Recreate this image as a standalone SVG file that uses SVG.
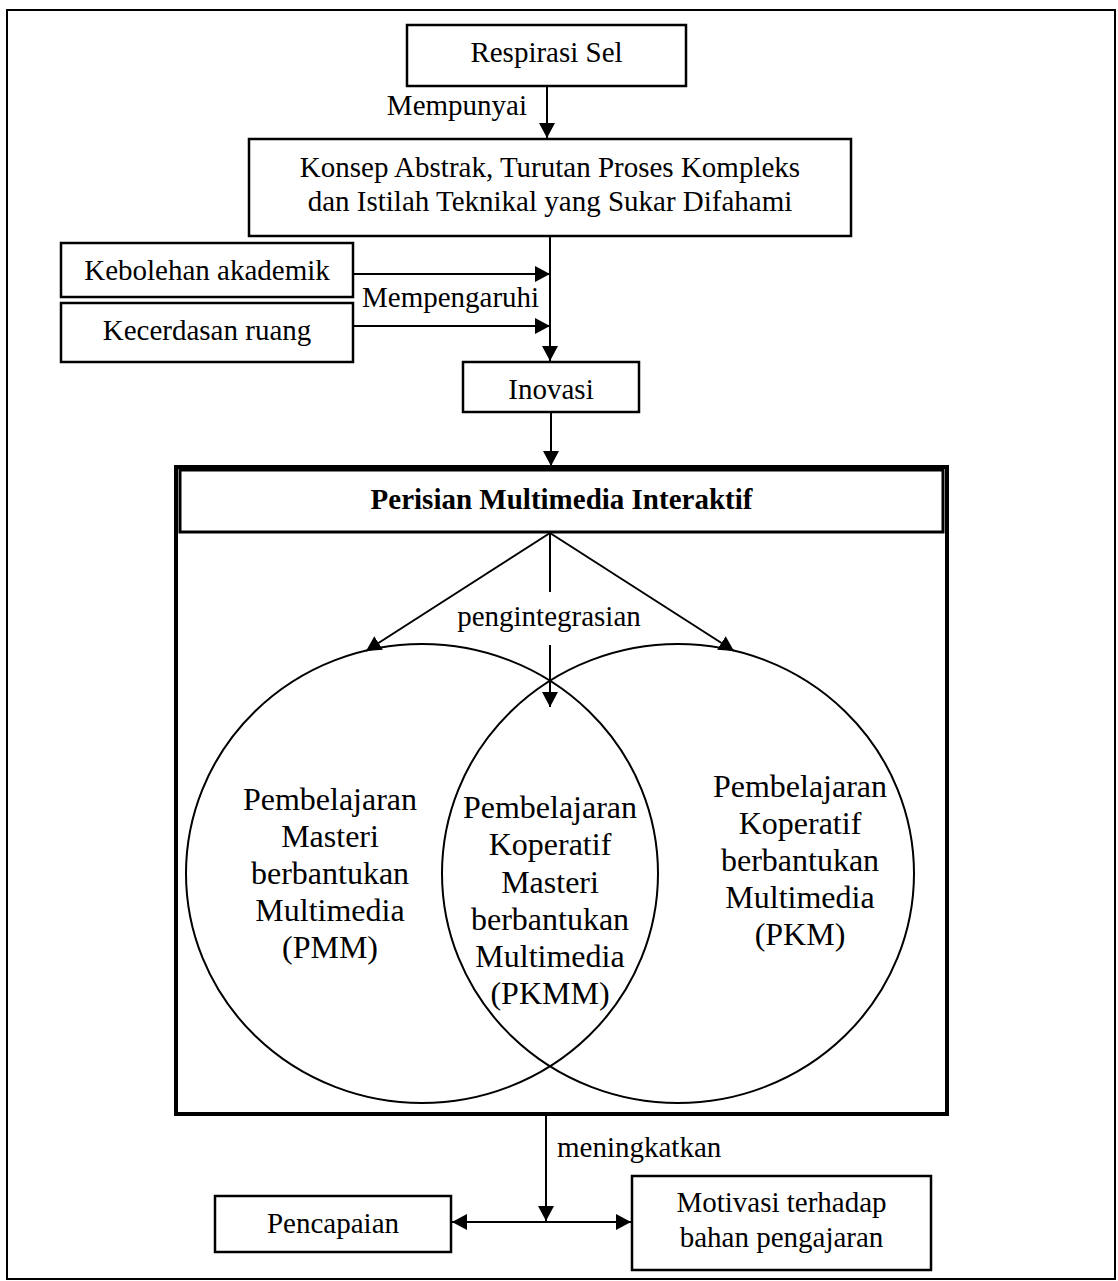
<svg xmlns="http://www.w3.org/2000/svg" width="1118" height="1281" viewBox="0 0 1118 1281">
<defs>
<style>
.box{fill:#fff;stroke:#000;stroke-width:2.5}
.ln{fill:none;stroke:#000;stroke-width:2}
.t{font-family:"Liberation Serif","Times New Roman",serif;font-size:29px;fill:#000}
.c{text-anchor:middle}
.b{font-weight:bold}
.big{font-size:32px}
</style>
<marker id="ah" markerUnits="userSpaceOnUse" markerWidth="16" markerHeight="16" refX="15" refY="8" orient="auto">
<path d="M0,0 L15,8 L0,16 z" fill="#000"/>
</marker>
</defs>
<rect x="0" y="0" width="1118" height="1281" fill="#fff"/>
<rect id="frame" x="7" y="10" width="1108" height="1269" fill="none" stroke="#000" stroke-width="2"/>

<g id="respirasi">
<rect class="box" x="407" y="25" width="279" height="61"/>
<text class="t c" x="546.5" y="62">Respirasi Sel</text>
</g>
<g id="konsep">
<rect class="box" x="249" y="139" width="602" height="97"/>
<text class="t c" x="550" y="177">Konsep Abstrak, Turutan Proses Kompleks</text>
<text class="t c" x="550" y="211">dan Istilah Teknikal yang Sukar Difahami</text>
</g>
<g id="kebolehan">
<rect class="box" x="61" y="243" width="292" height="54"/>
<text class="t c" x="207" y="280">Kebolehan akademik</text>
</g>
<g id="kecerdasan">
<rect class="box" x="61" y="303" width="292" height="59"/>
<text class="t c" x="207" y="340">Kecerdasan ruang</text>
</g>
<g id="inovasi">
<rect class="box" x="463" y="362" width="176" height="50"/>
<text class="t c" x="551" y="399">Inovasi</text>
</g>
<g id="perisian">
<rect x="176" y="467" width="771" height="647" fill="#fff" stroke="#000" stroke-width="4"/>
<rect x="180" y="470" width="763" height="62" fill="#fff" stroke="#000" stroke-width="3"/>
<text class="t c b" x="561.5" y="509">Perisian Multimedia Interaktif</text>
</g>
<g id="pmm">
<ellipse cx="422" cy="873.5" rx="236" ry="229.5" fill="none" stroke="#000" stroke-width="2"/>
<text class="t c big" x="330" y="810">Pembelajaran</text>
<text class="t c big" x="330" y="847">Masteri</text>
<text class="t c big" x="330" y="884">berbantukan</text>
<text class="t c big" x="330" y="921">Multimedia</text>
<text class="t c big" x="330" y="958">(PMM)</text>
</g>
<g id="pkm">
<ellipse cx="678" cy="873.5" rx="236" ry="229.5" fill="none" stroke="#000" stroke-width="2"/>
<text class="t c big" x="800" y="797">Pembelajaran</text>
<text class="t c big" x="800" y="834">Koperatif</text>
<text class="t c big" x="800" y="871">berbantukan</text>
<text class="t c big" x="800" y="908">Multimedia</text>
<text class="t c big" x="800" y="945">(PKM)</text>
</g>
<g id="pkmm">
<text class="t c big" x="550" y="818">Pembelajaran</text>
<text class="t c big" x="550" y="855">Koperatif</text>
<text class="t c big" x="550" y="893">Masteri</text>
<text class="t c big" x="550" y="930">berbantukan</text>
<text class="t c big" x="550" y="967">Multimedia</text>
<text class="t c big" x="550" y="1004">(PKMM)</text>
</g>
<g id="pencapaian">
<rect class="box" x="215" y="1196" width="236" height="56"/>
<text class="t c" x="333" y="1233">Pencapaian</text>
</g>
<g id="motivasi">
<rect class="box" x="632" y="1176" width="299" height="94"/>
<text class="t c" x="781.5" y="1212">Motivasi terhadap</text>
<text class="t c" x="781.5" y="1247">bahan pengajaran</text>
</g>

<g id="connectors">
<line class="ln" x1="547" y1="86" x2="547" y2="138" marker-end="url(#ah)"/>
<text class="t" x="527" y="115" text-anchor="end">Mempunyai</text>
<line class="ln" x1="550" y1="236" x2="550" y2="361" marker-end="url(#ah)"/>
<line class="ln" x1="353" y1="274" x2="550" y2="274" marker-end="url(#ah)"/>
<line class="ln" x1="353" y1="326" x2="550" y2="326" marker-end="url(#ah)"/>
<text class="t" x="362" y="307">Mempengaruhi</text>
<line class="ln" x1="551" y1="412" x2="551" y2="466" marker-end="url(#ah)"/>
<line class="ln" x1="550" y1="533" x2="366" y2="651" marker-end="url(#ah)"/>
<line class="ln" x1="550" y1="533" x2="734" y2="651" marker-end="url(#ah)"/>
<line class="ln" x1="550" y1="533" x2="550" y2="592"/>
<line class="ln" x1="550" y1="645" x2="550" y2="707" marker-end="url(#ah)"/>
<text class="t c" x="549" y="626">pengintegrasian</text>
<line class="ln" x1="546" y1="1114" x2="546" y2="1221" marker-end="url(#ah)"/>
<text class="t" x="557" y="1157">meningkatkan</text>
<line class="ln" x1="546" y1="1222" x2="452" y2="1222" marker-end="url(#ah)"/>
<line class="ln" x1="546" y1="1222" x2="631" y2="1222" marker-end="url(#ah)"/>
</g>
</svg>
